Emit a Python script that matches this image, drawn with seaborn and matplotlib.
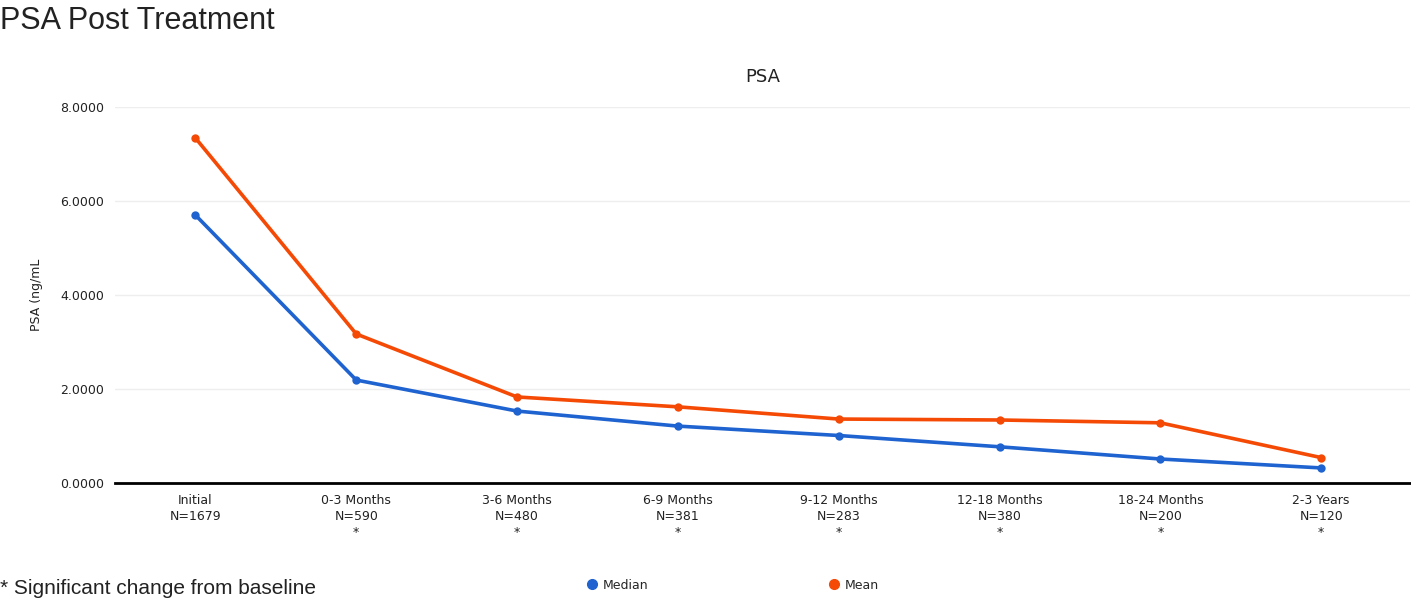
import pandas as pd
import seaborn as sns
import matplotlib.pyplot as plt
from matplotlib.lines import Line2D

# Données
periods = ['Initial', '0-3 Months', '3-6 Months', '6-9 Months', '9-12 Months',
           '12-18 Months', '18-24 Months', '2-3 Years']
n_patients = [1679, 590, 480, 381, 283, 380, 200, 120]
significant = [False, True, True, True, True, True, True, True]
median_psa = [5.70, 2.19, 1.53, 1.21, 1.01, 0.77, 0.51, 0.32]
mean_psa = [7.34, 3.17, 1.83, 1.62, 1.36, 1.34, 1.28, 0.54]
yticks = [0, 2, 4, 6, 8]

df = pd.DataFrame({
    'period': periods * 2,
    'psa': median_psa + mean_psa,
    'stat': ['Median'] * len(periods) + ['Mean'] * len(periods),
})

colors = {'Median': '#1f63d0', 'Mean': '#f54a05'}

sns.set_style('white')
plt.rcParams['font.family'] = ['DejaVu Sans']

fig = plt.figure(figsize=(14.11, 6.05), dpi=100)
ax = fig.add_axes([0.0815, 0.2017, 0.9175, 0.6215])

sns.lineplot(data=df, x='period', y='psa', hue='stat', palette=colors,
             sort=False, marker='o', markersize=6, markeredgewidth=0,
             linewidth=2.6, legend=False, ax=ax)

ax.set_xlim(-0.5, 7.55)
ax.set_ylim(0, 8)
ax.set_yticks(yticks)
ax.set_yticklabels([f'{v:.4f}' for v in yticks], fontsize=9, color='#222222')
labels = [f'{p}\nN={n}' + ('\n*' if s else '') for p, n, s in zip(periods, n_patients, significant)]
ax.set_xticks(range(len(periods)))
ax.set_xticklabels(labels, fontsize=9, color='#222222', va='top', linespacing=1.3)
ax.tick_params(axis='both', length=0, pad=8)
ax.grid(axis='y', color='#eeeeee', linewidth=1)
for side in ['top', 'right', 'left']:
    ax.spines[side].set_visible(False)
ax.spines['bottom'].set_color('black')
ax.spines['bottom'].set_linewidth(2)
ax.set_xlabel('')
ax.set_ylabel('PSA (ng/mL', fontsize=9, color='#222222', labelpad=12)
ax.set_title('PSA', fontsize=13, color='#222222', pad=18)

# Titre principal et note
fig.text(0.0, 0.99, 'PSA Post Treatment', fontsize=22, family='Liberation Sans',
         ha='left', va='top', color='#222222')
fig.text(0.0, 0.012, '* Significant change from baseline', fontsize=15,
         family='Liberation Sans', ha='left', va='bottom', color='#222222')

handles = [Line2D([], [], linestyle='none', marker='o', markersize=7,
                  color=colors[k], label=k) for k in ['Median', 'Mean']]
fig.legend(handles=handles, loc='center', bbox_to_anchor=(0.519, 0.033), ncol=2,
           frameon=False, fontsize=9, columnspacing=14.3, handletextpad=0.4,
           handlelength=1)

plt.savefig('out.png', dpi=100)
